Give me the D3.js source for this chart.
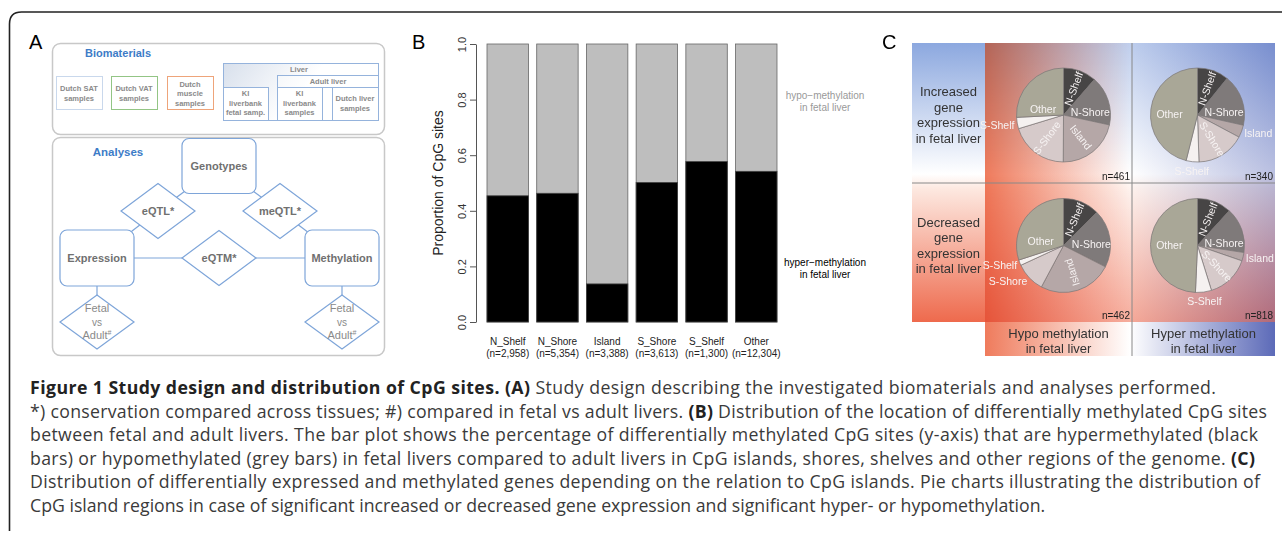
<!DOCTYPE html>
<html>
<head>
<meta charset="utf-8">
<script src="https://cdn.jsdelivr.net/npm/d3@7"></script>
<style>
  body { margin: 0; background: #fff; }
  svg { display: block; }
  text { font-family: "Liberation Sans", Arial, sans-serif; }
</style>
</head>
<body>
<script>
// panel B data
var barCategories = ["N_Shelf", "N_Shore", "Island", "S_Shore", "S_Shelf", "Other"];
var barCounts = ["(n=2,958)", "(n=5,354)", "(n=3,388)", "(n=3,613)", "(n=1,300)", "(n=12,304)"];
var hyperShare = [0.454, 0.463, 0.137, 0.502, 0.577, 0.542];
var yTicks = [0, 0.2, 0.4, 0.6, 0.8, 1.0];

// panel C data (percent of genes per CpG region)
var pieRegions = ["N-Shelf", "N-Shore", "Island", "S-Shore", "S-Shelf", "Other"];
var pieIncHypo = [11.4, 17.0, 21.7, 20.2, 3.9, 25.8];
var pieIncHyper = [10.8, 17.7, 4.3, 16.7, 4.4, 46.1];
var pieDecHypo = [12.5, 20.0, 25.3, 10.3, 1.9, 30.0];
var pieDecHyper = [11.8, 15.6, 2.9, 14.9, 5.5, 49.3];
var pieN = ["n=461", "n=340", "n=462", "n=818"];
var rowLabels = [["Increased", "gene", "expression", "in fetal liver"], ["Decreased", "gene", "expression", "in fetal liver"]];
var colLabels = [["Hypo methylation", "in fetal liver"], ["Hyper methylation", "in fetal liver"]];

var W = 1282, H = 534;
var svg = d3.select("body").append("svg").attr("width", W).attr("height", H);
var defs = svg.append("defs");

// outer frame
svg.append("path")
  .attr("d", "M9.5,531 V24 Q9.5,12 21.5,12 H1282")
  .attr("fill", "none").attr("stroke", "#222").attr("stroke-width", 1.6);

// ---------------- Panel A: study design ----------------
var A = svg.append("g");
var blue = "#7ea5d9";
A.append("text").attr("x", 29).attr("y", 49).attr("font-size", 20).text("A");

A.append("rect").attr("x", 52.5).attr("y", 43.5).attr("width", 332).attr("height", 91).attr("rx", 8)
  .attr("fill", "#fff").attr("stroke", "#c8c8c8").attr("stroke-width", 1.5);
A.append("rect").attr("x", 52.5).attr("y", 137.5).attr("width", 332).attr("height", 218).attr("rx", 8)
  .attr("fill", "#fff").attr("stroke", "#c8c8c8").attr("stroke-width", 1.5);

A.append("text").attr("x", 118).attr("y", 57).attr("text-anchor", "middle").attr("font-size", 11)
  .attr("font-weight", "bold").attr("fill", "#3d7cc7").text("Biomaterials");
A.append("text").attr("x", 118).attr("y", 156).attr("text-anchor", "middle").attr("font-size", 11.5)
  .attr("font-weight", "bold").attr("fill", "#3d7cc7").text("Analyses");

function smallBox(x, y, w, h, stroke, lines, ly, fill) {
  A.append("rect").attr("x", x + 0.5).attr("y", y + 0.5).attr("width", w).attr("height", h)
    .attr("fill", fill || "#fff").attr("stroke", stroke).attr("stroke-width", 1);
  lines.forEach(function(t, i) {
    A.append("text").attr("x", x + w / 2).attr("y", ly + i * 9.5).attr("text-anchor", "middle")
      .attr("font-size", 7.5).attr("font-weight", "bold").attr("fill", "#8a8a8a").text(t);
  });
}
smallBox(56, 76, 46, 33, "#c9d8ec", ["Dutch SAT", "samples"], 91);
smallBox(111, 76, 46, 33, "#93c585", ["Dutch VAT", "samples"], 91);
smallBox(167, 76, 46, 33, "#eea47a", ["Dutch", "muscle", "samples"], 86.5);

var lg = defs.append("linearGradient").attr("id", "liverGrad").attr("x1", 0).attr("x2", 1).attr("y1", 0).attr("y2", 0.3);
lg.append("stop").attr("offset", 0).attr("stop-color", "#d8e0ec");
lg.append("stop").attr("offset", 0.6).attr("stop-color", "#ffffff");
smallBox(223, 63, 155, 57, "#95b3dc", [], 0, "url(#liverGrad)");
A.append("text").attr("x", 299).attr("y", 72).attr("text-anchor", "middle").attr("font-size", 7.5)
  .attr("font-weight", "bold").attr("fill", "#8a8a8a").text("Liver");
smallBox(277, 75, 101, 12, "#95b3dc", [], 0, "rgba(255,255,255,0.3)");
A.append("text").attr("x", 328).attr("y", 84).attr("text-anchor", "middle").attr("font-size", 7.5)
  .attr("font-weight", "bold").attr("fill", "#8a8a8a").text("Adult liver");
smallBox(223, 87, 45, 33, "#95b3dc", ["KI", "liverbank", "fetal samp."], 96);
smallBox(277, 87, 45, 33, "#95b3dc", ["KI", "liverbank", "samples"], 96);
smallBox(332, 87, 46, 33, "#95b3dc", ["Dutch liver", "samples"], 101);

// analysis diagram
var nodes = {
  geno: [219, 166], eqtl: [158, 211], meqtl: [280, 211],
  expr: [97, 258], meth: [342, 258], eqtm: [219, 258],
  fvL: [97, 322], fvR: [342, 322]
};
[["geno", "eqtl"], ["geno", "meqtl"], ["expr", "eqtl"], ["meth", "meqtl"], ["expr", "meth"], ["expr", "fvL"], ["meth", "fvR"]]
  .forEach(function(p) {
    A.append("line").attr("x1", nodes[p[0]][0]).attr("y1", nodes[p[0]][1])
      .attr("x2", nodes[p[1]][0]).attr("y2", nodes[p[1]][1])
      .attr("stroke", blue).attr("stroke-width", 1.2);
  });

function roundBox(c, w, h, label) {
  A.append("rect").attr("x", c[0] - w / 2).attr("y", c[1] - h / 2).attr("width", w).attr("height", h).attr("rx", 7)
    .attr("fill", "#fff").attr("stroke", blue).attr("stroke-width", 1.2);
  A.append("text").attr("x", c[0]).attr("y", c[1] + 4).attr("text-anchor", "middle").attr("font-size", 11)
    .attr("font-weight", "bold").attr("fill", "#707070").text(label);
}
function diamond(c, hw, hh) {
  A.append("path")
    .attr("d", "M" + (c[0] - hw) + "," + c[1] + " L" + c[0] + "," + (c[1] - hh) + " L" + (c[0] + hw) + "," + c[1] + " L" + c[0] + "," + (c[1] + hh) + "Z")
    .attr("fill", "#fff").attr("stroke", blue).attr("stroke-width", 1.2);
}
roundBox(nodes.geno, 74, 55, "Genotypes");
roundBox(nodes.expr, 74, 56, "Expression");
roundBox(nodes.meth, 74, 56, "Methylation");
[["eqtl", "eQTL*"], ["meqtl", "meQTL*"], ["eqtm", "eQTM*"]].forEach(function(d) {
  diamond(nodes[d[0]], 37, 27.5);
  A.append("text").attr("x", nodes[d[0]][0]).attr("y", nodes[d[0]][1] + 4).attr("text-anchor", "middle")
    .attr("font-size", 11).attr("font-weight", "bold").attr("fill", "#707070").text(d[1]);
});
["fvL", "fvR"].forEach(function(k) {
  var c = nodes[k];
  diamond(c, 37, 27);
  A.append("text").attr("x", c[0]).attr("y", c[1] - 10).attr("text-anchor", "middle").attr("font-size", 11).attr("fill", "#8a8a8a").text("Fetal");
  A.append("text").attr("x", c[0]).attr("y", c[1] + 4).attr("text-anchor", "middle").attr("font-size", 10).attr("fill", "#8a8a8a").text("vs");
  var t = A.append("text").attr("x", c[0]).attr("y", c[1] + 17).attr("text-anchor", "middle").attr("font-size", 11).attr("fill", "#8a8a8a");
  t.append("tspan").text("Adult");
  t.append("tspan").attr("font-size", 7).attr("dy", -4).text("#");
});

// ---------------- Panel B: stacked bars ----------------
var B = svg.append("g");
B.append("text").attr("x", 412).attr("y", 49).attr("font-size", 20).text("B");

var x = d3.scaleBand().domain(barCategories).range([487, 777]).paddingInner(1 / 6).paddingOuter(0);
var y = d3.scaleLinear().domain([0, 1]).range([322, 44]);

B.selectAll("rect.hypo").data(barCategories).enter().append("rect")
  .attr("class", "hypo")
  .attr("x", function(d) { return x(d); })
  .attr("y", y(1))
  .attr("width", x.bandwidth())
  .attr("height", y(0) - y(1))
  .attr("fill", "#bebebe").attr("stroke", "#666").attr("stroke-width", 0.8);
B.selectAll("rect.hyper").data(hyperShare).enter().append("rect")
  .attr("class", "hyper")
  .attr("x", function(d, i) { return x(barCategories[i]); })
  .attr("y", function(d) { return y(d); })
  .attr("width", x.bandwidth())
  .attr("height", function(d) { return y(0) - y(d); })
  .attr("fill", "#000").attr("stroke", "#444").attr("stroke-width", 0.8);

var yAxis = B.append("g").attr("transform", "translate(476,0)")
  .call(d3.axisLeft(y).tickValues(yTicks).tickSize(6).tickSizeOuter(0).tickFormat(d3.format(".1f")));
yAxis.select(".domain").attr("stroke", "#555");
yAxis.selectAll(".tick line").attr("stroke", "#555");
yAxis.selectAll(".tick text")
  .attr("transform", "rotate(-90)")
  .attr("x", 0).attr("y", -10).attr("dy", 0)
  .attr("text-anchor", "middle")
  .attr("font-size", 11).attr("fill", "#333")
  .style("font-family", "'Liberation Sans', Arial, sans-serif");

B.append("text").attr("transform", "translate(443,183) rotate(-90)")
  .attr("text-anchor", "middle").attr("font-size", 14).attr("fill", "#222").text("Proportion of CpG sites");

barCategories.forEach(function(c, i) {
  var cx = x(c) + x.bandwidth() / 2;
  B.append("text").attr("x", cx).attr("y", 345).attr("text-anchor", "middle").attr("font-size", 10).attr("fill", "#222").text(c);
  B.append("text").attr("x", cx).attr("y", 357).attr("text-anchor", "middle").attr("font-size", 10).attr("fill", "#222").text(barCounts[i]);
});

B.append("text").attr("x", 825).attr("y", 99).attr("text-anchor", "middle").attr("font-size", 10).attr("fill", "#999").text("hypo\u2212methylation");
B.append("text").attr("x", 825).attr("y", 111).attr("text-anchor", "middle").attr("font-size", 10).attr("fill", "#999").text("in fetal liver");
B.append("text").attr("x", 825).attr("y", 266).attr("text-anchor", "middle").attr("font-size", 10).attr("fill", "#000").text("hyper\u2212methylation");
B.append("text").attr("x", 825).attr("y", 278).attr("text-anchor", "middle").attr("font-size", 10).attr("fill", "#000").text("in fetal liver");

// ---------------- Panel C: pies on gradient grid ----------------
var C = svg.append("g").style("isolation", "isolate");
C.append("text").attr("x", 882).attr("y", 49).attr("font-size", 20).text("C");

var gx = [912, 985, 1132, 1275], gy = [43, 183, 322, 356];

var rg = defs.append("linearGradient").attr("id", "rowGrad").attr("gradientUnits", "userSpaceOnUse")
  .attr("x1", 0).attr("y1", gy[0]).attr("x2", 0).attr("y2", gy[2]);
[[0, "#8ca8df"], [0.47, "#ffffff"], [0.52, "#fde9e1"], [1, "#ee6a4d"]].forEach(function(s) {
  rg.append("stop").attr("offset", s[0]).attr("stop-color", s[1]);
});
var cg = defs.append("linearGradient").attr("id", "colGrad").attr("gradientUnits", "userSpaceOnUse")
  .attr("x1", gx[1]).attr("y1", 0).attr("x2", gx[3]).attr("y2", 0);
[[0, "#ef7b5c"], [0.5, "#ffffff"], [1, "#5c6ab8"]].forEach(function(s) {
  cg.append("stop").attr("offset", s[0]).attr("stop-color", s[1]);
});

C.append("rect").attr("x", gx[0]).attr("y", gy[0]).attr("width", gx[1] - gx[0]).attr("height", gy[2] - gy[0]).attr("fill", "url(#rowGrad)");
C.append("rect").attr("x", gx[1]).attr("y", gy[0]).attr("width", gx[3] - gx[1]).attr("height", gy[3] - gy[0]).attr("fill", "url(#colGrad)");
// hypo column: row tint multiplied in; hyper column: row tint laid over
C.append("rect").attr("x", gx[1]).attr("y", gy[0]).attr("width", gx[2] - gx[1]).attr("height", gy[2] - gy[0])
  .attr("fill", "url(#rowGrad)").attr("opacity", 0.55).style("mix-blend-mode", "multiply");
C.append("rect").attr("x", gx[2]).attr("y", gy[0]).attr("width", gx[3] - gx[2]).attr("height", gy[2] - gy[0])
  .attr("fill", "url(#rowGrad)").attr("opacity", 0.58);

C.append("line").attr("x1", gx[2]).attr("x2", gx[2]).attr("y1", gy[0]).attr("y2", gy[3]).attr("stroke", "#888").attr("stroke-width", 1);
C.append("line").attr("x1", gx[0]).attr("x2", gx[3]).attr("y1", gy[1]).attr("y2", gy[1]).attr("stroke", "#888").attr("stroke-width", 1);

var pieCenterY = [115, 245.5];
rowLabels.forEach(function(lines, r) {
  lines.forEach(function(t, i) {
    C.append("text").attr("x", (gx[0] + gx[1]) / 2).attr("y", pieCenterY[r] - 23.25 + i * 15.5 + 4.5).attr("text-anchor", "middle")
      .attr("font-size", 13).attr("fill", "#333").text(t);
  });
});
colLabels.forEach(function(lines, c) {
  var cx = (gx[c + 1] + gx[c + 2]) / 2;
  lines.forEach(function(t, i) {
    C.append("text").attr("x", cx).attr("y", 338 + i * 15).attr("text-anchor", "middle")
      .attr("font-size", 13).attr("fill", "#333").text(t);
  });
});

var pieColors = ["#474545", "#7f7a7a", "#b5a7a7", "#d6caca", "#f5f1f0", "#a9a797"];
// label placement per slice: h = inside horizontal, r = radial outward, ri = radial inward, o = outside
var pies = [
  { vals: pieIncHypo, row: 0, col: 0, modes: ["r", "h", "r", "ri", "o", "h"] },
  { vals: pieIncHyper, row: 0, col: 1, modes: ["r", "h", "o", "r", "o", "h"] },
  { vals: pieDecHypo, row: 1, col: 0, modes: ["r", "h", "ri", "o", "o", "h"] },
  { vals: pieDecHyper, row: 1, col: 1, modes: ["r", "h", "o", "r", "o", "h"] }
];
var R = 47;
var pie = d3.pie().sort(null).value(function(d) { return d; });
var arc = d3.arc().innerRadius(0).outerRadius(R);

pies.forEach(function(p, k) {
  var cx = (gx[p.col + 1] + gx[p.col + 2]) / 2 + (p.col === 0 ? 5 : -6);
  var cy = pieCenterY[p.row];
  var g = C.append("g").attr("transform", "translate(" + cx + "," + cy + ")");
  var arcs = pie(p.vals);
  g.selectAll("path").data(arcs).enter().append("path")
    .attr("d", arc)
    .attr("fill", function(d, i) { return pieColors[i]; })
    .attr("stroke", "#7a7575").attr("stroke-width", 0.7);

  arcs.forEach(function(a, i) {
    var mid = (a.startAngle + a.endAngle) / 2;
    var deg = mid * 180 / Math.PI;
    var mode = p.modes[i];
    var t = g.append("text").attr("font-size", 10.5).attr("fill", "#f7f3f3").text(pieRegions[i]);
    if (mode === "o") {
      var rr = (deg > 150 && deg < 210) ? R * 1.15 : R * 1.06;
      var lx = rr * Math.sin(mid), ly = -rr * Math.cos(mid);
      var anchor = (deg > 160 && deg < 200) ? "middle" : (deg < 180 ? "start" : "end");
      t.attr("x", lx).attr("y", ly + ((deg > 160 && deg < 200) ? 6 : 5)).attr("text-anchor", anchor);
    } else if (mode === "h") {
      var hr = R * 0.6;
      t.attr("x", hr * Math.sin(mid)).attr("y", -hr * Math.cos(mid) * 0.3 + 4).attr("text-anchor", "middle");
    } else {
      var qr = R * 0.6;
      var rot = mode === "r" ? deg - 90 : deg + 90;
      t.attr("text-anchor", "middle").attr("dominant-baseline", "central")
        .attr("transform", "translate(" + (qr * Math.sin(mid)) + "," + (-qr * Math.cos(mid)) + ") rotate(" + rot + ")");
    }
  });

  C.append("text").attr("x", gx[p.col + 2] - 2).attr("y", gy[p.row + 1] - 3).attr("text-anchor", "end")
    .attr("font-size", 10).attr("fill", "#222").text(pieN[k]);
});

// ---------------- Caption ----------------
var captionLines = [
  [["Figure 1 Study design and distribution of CpG sites. (A)", true], [" Study design describing the investigated biomaterials and analyses performed.", false]],
  [["*) conservation compared across tissues; #) compared in fetal vs adult livers. ", false], ["(B)", true], [" Distribution of the location of differentially methylated CpG sites", false]],
  [["between fetal and adult livers. The bar plot shows the percentage of differentially methylated CpG sites (y-axis) that are hypermethylated (black", false]],
  [["bars) or hypomethylated (grey bars) in fetal livers compared to adult livers in CpG islands, shores, shelves and other regions of the genome. ", false], ["(C)", true]],
  [["Distribution of differentially expressed and methylated genes depending on the relation to CpG islands. Pie charts illustrating the distribution of", false]],
  [["CpG island regions in case of significant increased or decreased gene expression and significant hyper- or hypomethylation.", false]]
];
var lineEnds = [1216, 1267, 1258, 1255, 1260, 1046];
var capX = 30, capY0 = 394, capStep = 23.6;

var cap = svg.append("g");
var capTexts = captionLines.map(function(segs, i) {
  var t = cap.append("text").attr("x", capX).attr("y", capY0 + i * capStep)
    .attr("font-size", 17).attr("fill", "#3a3a3a")
    .style("font-family", "'Open Sans', 'Noto Sans', sans-serif");
  segs.forEach(function(s) {
    t.append("tspan").attr("font-weight", s[1] ? "bold" : "normal").attr("fill", s[1] ? "#222" : "#3a3a3a").text(s[0]);
  });
  return t;
});
// size the font from the last (unjustified) line, then justify the others
var lastW = capTexts[5].node().getComputedTextLength();
var fs = 17 * (lineEnds[5] - capX) / lastW;
capTexts.forEach(function(t, i) {
  t.attr("font-size", fs);
  if (i < 5) t.attr("textLength", lineEnds[i] - capX).attr("lengthAdjust", "spacing");
});
</script>
</body>
</html>
